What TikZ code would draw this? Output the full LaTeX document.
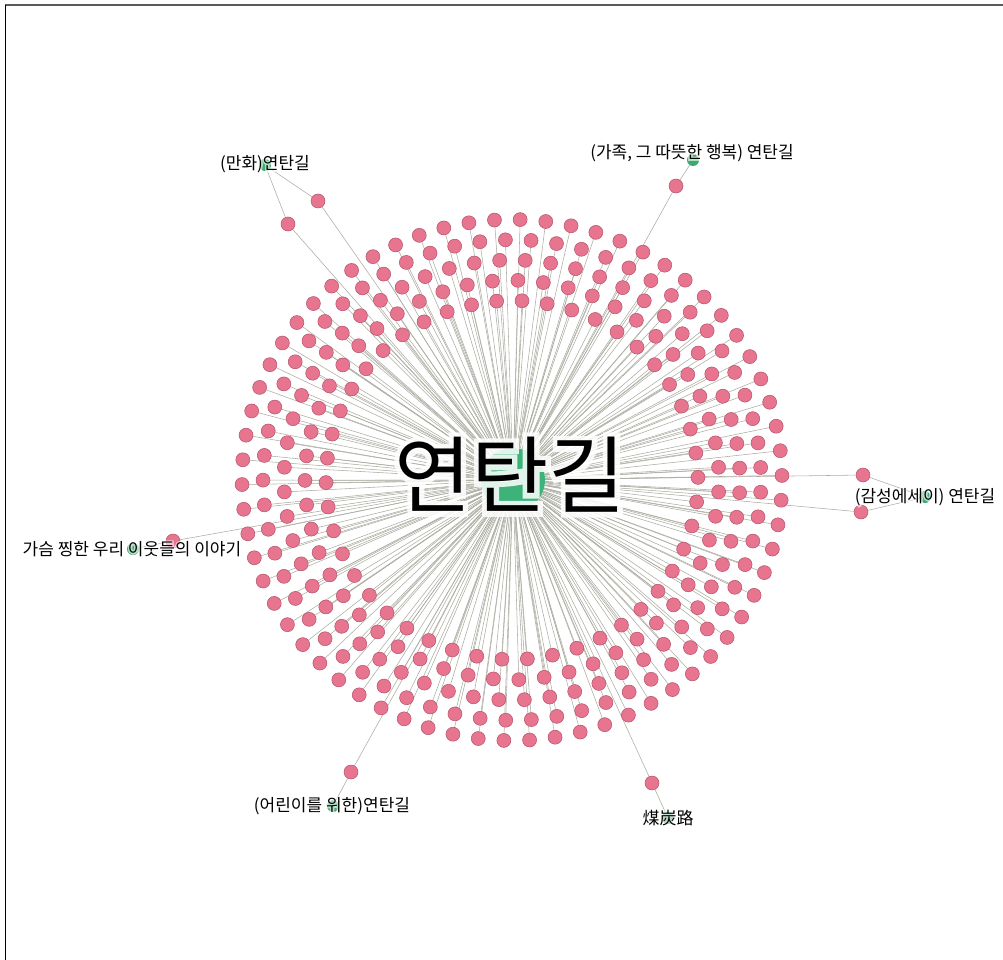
\documentclass[tikz,border=0pt]{standalone}
\usepackage{fontspec}
\setmainfont{Noto Sans CJK KR}
\newfontfamily\halofont[AutoFakeBold=18]{Noto Sans CJK KR}
\newfontfamily\bighalofont[AutoFakeBold=12]{Noto Sans CJK KR}
\definecolor{pinkfill}{HTML}{E8758F}
\definecolor{pinkedge}{HTML}{B65068}
\definecolor{gfill}{HTML}{3DAA70}
\definecolor{cfill}{HTML}{3DB37A}
\definecolor{edgec}{HTML}{ADADA3}
\begin{document}
\begin{tikzpicture}[x=1pt,y=-1pt,
  pslot/.style={circle,inner sep=0pt,minimum size=14pt},
  gslot/.style={circle,inner sep=0pt,minimum size=12pt},
  pnode/.style={circle,draw=pinkedge,fill=pinkfill,line width=0.5pt,inner sep=0pt,minimum size=14pt},
  gnode/.style={circle,fill=gfill,inner sep=0pt,minimum size=12pt},
  edge/.style={draw=edgec,line width=0.55pt},
  lab/.style={font=\fontsize{17}{19}\selectfont,inner sep=0pt},
  halo/.style={font=\halofont\bfseries\fontsize{17}{19}\selectfont,text=white,opacity=0.6,inner sep=0pt}]
\useasboundingbox (0,0) rectangle (1003,960);
\fill[white] (0,0) rectangle (1003,960);
\draw[line width=1.5pt,draw=black!65] (5,5) -- (1003,5);
\draw[line width=0.8pt] (5,5) -- (5,960);
% node slots (named)
\node[circle,inner sep=0pt,minimum size=64pt] (c) at (513,480) {};
\foreach \r/\n/\o [count=\i] in {186/46/0.0,207/51/0.5,228/56/0.25,249/61/0.75,270/66/0.4}{
  \foreach \k in {1,...,\n}{
    \pgfmathsetmacro\a{360/\n*(\k+\o)+7*\i}
    \node[pslot] (p\i-\k) at ({512+\r*cos(\a)},{480+0.965*\r*sin(\a)}) {};
  }
}
\node[pslot] (x1) at (318,201) {};
\node[pslot] (x2) at (288,224) {};
\node[pslot] (x3) at (676,186) {};
\node[pslot] (x4) at (863,475) {};
\node[pslot] (x5) at (861,512) {};
\node[pslot] (x6) at (173,541) {};
\node[pslot] (x7) at (351,772) {};
\node[pslot] (x8) at (652,783) {};
\node[gslot] (g1) at (265,165) {};
\node[gslot] (g2) at (693,160) {};
\node[gslot] (g3) at (925,497) {};
\node[gslot] (g4) at (133,549) {};
\node[gslot] (g5) at (333,806) {};
\node[gslot] (g6) at (668,818) {};
% edges
\foreach \n [count=\i] in {46,51,56,61,66}{
  \foreach \k in {1,...,\n}{\draw[edge] (c) -- (p\i-\k);}
}
\foreach \x in {x1,x2,x3,x4,x5,x6,x7,x8}{\draw[edge] (c) -- (\x);}
\draw[edge] (g1) -- (x1);
\draw[edge] (g1) -- (x2);
\draw[edge] (g2) -- (x3);
\draw[edge] (g3) -- (x4);
\draw[edge] (g3) -- (x5);
\draw[edge] (g4) -- (x6);
\draw[edge] (g5) -- (x7);
\draw[edge] (g6) -- (x8);
% visible nodes
\node[circle,fill=cfill,inner sep=0pt,minimum size=64pt] at (c) {};
\foreach \n [count=\i] in {46,51,56,61,66}{
  \foreach \k in {1,...,\n}{\node[pnode] at (p\i-\k) {};}
}
\foreach \x in {x1,x2,x3,x4,x5,x6,x7,x8}{\node[pnode] at (\x) {};}
\foreach \g in {g1,g2,g3,g4,g5,g6}{\node[gnode] at (\g) {};}
% labels with white halo
\node[halo] at (265,164) {(만화)연탄길};
\node[lab] (l1) at (265,164) {(만화)연탄길};
\node[halo] at (692,153) {(가족, 그 따뜻한 행복) 연탄길};
\node[lab] (l2) at (692,153) {(가족, 그 따뜻한 행복) 연탄길};
\node[halo] at (925,497) {(감성에세이) 연탄길};
\node[lab] (l3) at (925,497) {(감성에세이) 연탄길};
\node[halo] at (132,549) {가슴 찡한 우리 이웃들의 이야기};
\node[lab] (l4) at (132,549) {가슴 찡한 우리 이웃들의 이야기};
\node[halo] at (332,806) {(어린이를 위한)연탄길};
\node[lab] (l5) at (332,806) {(어린이를 위한)연탄길};
\node[halo] at (668,818) {煤炭路};
\node[lab] (l6) at (668,818) {煤炭路};
\node[font=\bighalofont\bfseries\fontsize{84}{88}\selectfont,text=white,opacity=0.85,inner sep=0pt] at (510,475) {연탄길};
\node[font=\fontsize{84}{88}\selectfont,inner sep=0pt] (big) at (510,475) {연탄길};
\end{tikzpicture}
\end{document}
